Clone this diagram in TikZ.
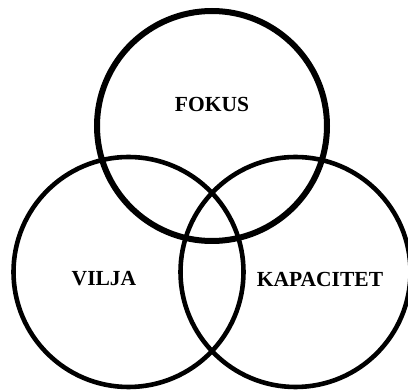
\documentclass[tikz,border=0pt]{standalone}
\usepackage{fontspec}
\setmainfont{Liberation Serif}
\usetikzlibrary{positioning}

\tikzset{
  ring/.style={draw, circle, line width=4.6pt, minimum size=230pt, inner sep=0pt},
  word/.style={font=\fontsize{21.5}{25}\selectfont\bfseries}
}

\begin{document}
\begin{tikzpicture}[x=1pt,y=-1pt]
  \useasboundingbox (0,0) rectangle (408,390);
  \clip (0,0) rectangle (408,390);

  % Tre cirklar
  \node[ring, line width=6pt] (fokusring) at (212,126) {};
  \node[ring] (viljaring) at (128.5,272) {};
  \node[ring] (kapring) at (295.5,272) {};

  % Etiketter
  \node[word] (fokus) at (212,104) {FOKUS};
  \node[word] (vilja) at (104,279) {VILJA};
  \node[word] (kapacitet) at (320,279) {KAPACITET};
\end{tikzpicture}
\end{document}
